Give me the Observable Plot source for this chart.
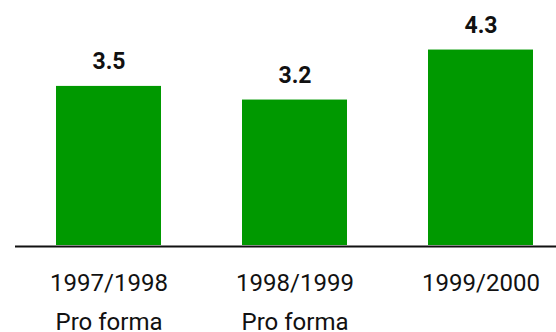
<!DOCTYPE html>
<html>
<head>
<meta charset="utf-8">
<script src="https://cdn.jsdelivr.net/npm/d3@7"></script>
<script src="https://cdn.jsdelivr.net/npm/@observablehq/plot@0.6"></script>
<style>
  html, body { margin: 0; padding: 0; background: #fff; }
  #chart svg { display: block; }
</style>
</head>
<body>
<div id="chart"></div>
<script>
// Fiscal years and their values
const periods = ["1997/1998", "1998/1999", "1999/2000"];
const notes = ["Pro forma", "Pro forma", ""];
const values = [3.5, 3.2, 4.3];

const data = periods.map((p, i) => ({period: p, note: notes[i], value: values[i]}));

const font = "Roboto, 'Liberation Sans', Arial, sans-serif";

const chart = Plot.plot({
  width: 556,
  height: 332,
  marginTop: 0,
  marginLeft: 15,
  marginRight: 0,
  marginBottom: 87,
  style: {fontFamily: font, background: "#fff", color: "#111"},
  x: {
    type: "band",
    domain: periods,
    paddingInner: 0.4355,
    paddingOuter: 0.1695,
    align: 0.64,
    axis: null
  },
  y: {domain: [0, 5.39], axis: null},
  marks: [
    Plot.barY(data, {x: "period", y: "value", fill: "#009900"}),
    Plot.ruleY([0], {stroke: "#111", strokeWidth: 2, dy: 1}),
    // value labels above bars
    Plot.text(data, {
      x: "period", y: "value", text: d => d.value.toFixed(1),
      lineAnchor: "bottom", dy: -17, fontSize: 23, fontWeight: "bold", fill: "#111"
    }),
    // category labels (two lines) under the baseline
    Plot.text(data, {
      x: "period", text: "period", frameAnchor: "bottom",
      lineAnchor: "bottom", dy: 45, fontSize: 24, fill: "#111"
    }),
    Plot.text(data, {
      x: "period", text: "note", frameAnchor: "bottom",
      lineAnchor: "bottom", dy: 84, fontSize: 24, fill: "#111"
    })
  ]
});

document.getElementById("chart").appendChild(chart);
</script>
</body>
</html>
